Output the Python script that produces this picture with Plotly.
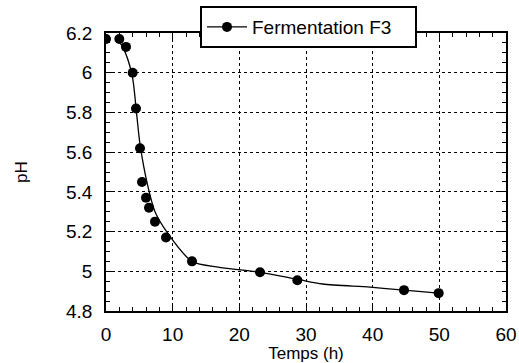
import plotly.graph_objects as go

# Measured data points (Temps h, pH)
temps_pts = [0, 2, 3, 4, 4.5, 5.1, 5.4, 6.0, 6.45, 7.35, 9.0, 12.9, 23.1, 28.7, 44.7, 49.9]
ph_pts = [6.17, 6.17, 6.13, 6.00, 5.82, 5.62, 5.45, 5.37, 5.32, 5.25, 5.17, 5.05, 4.995, 4.955, 4.905, 4.89]

# Fitted curve
temps_fit = [1.4, 2.5, 3.9, 4.6, 5.1, 6.2, 7.35, 9.3, 12.9, 17.0, 23.1, 28.7, 32.5, 39.6, 44.7, 49.9]
ph_fit = [6.18, 6.13, 5.99, 5.79, 5.64, 5.44, 5.30, 5.19, 5.05, 5.02, 4.995, 4.96, 4.936, 4.92, 4.905, 4.89]

series_name = "Fermentation F3"
x_title = "Temps (h)"
y_title = "pH"

FONT = "Liberation Sans, Arial, sans-serif"

fig = go.Figure()
fig.add_trace(go.Scatter(x=temps_fit, y=ph_fit, mode="lines", line=dict(color="black", width=1.3, shape="spline", smoothing=0.8),
                         showlegend=False, hoverinfo="skip"))
fig.add_trace(go.Scatter(x=temps_pts, y=ph_pts, mode="markers", marker=dict(color="black", size=10),
                         showlegend=False))
fig.add_trace(go.Scatter(x=[None], y=[None], mode="lines+markers", name=series_name,
                         line=dict(color="black", width=1.3), marker=dict(color="black", size=10)))

axis_common = dict(
    showgrid=True, gridcolor="black", griddash="dot", gridwidth=1,
    showline=True, linecolor="black", linewidth=1.5, mirror="ticks",
    ticks="inside", ticklen=8, tickcolor="black", tickwidth=1,
    zeroline=False, tickfont=dict(family=FONT, size=19, color="black"),
    automargin=False,
)

fig.update_xaxes(range=[0, 60], dtick=10, tick0=0,
                 minor=dict(ticks="inside", ticklen=4, dtick=2, tickcolor="black", showgrid=False),
                 title=dict(text=x_title, font=dict(family=FONT, size=17, color="black"), standoff=0),
                 ticklabelstandoff=5, **axis_common)
fig.update_yaxes(range=[4.8, 6.2], dtick=0.2, tick0=4.8,
                 minor=dict(ticks="inside", ticklen=4, dtick=0.05, tickcolor="black", showgrid=False),
                 title=dict(text=y_title, font=dict(family=FONT, size=17, color="black"), standoff=34),
                 ticklabelstandoff=8, **axis_common)

fig.update_layout(
    width=519, height=363,
    margin=dict(l=106, r=13, t=33, b=52, autoexpand=False),
    plot_bgcolor="white", paper_bgcolor="white",
    font=dict(family=FONT, size=18, color="black"),
    legend=dict(x=0.235, y=1.097, xanchor="left", yanchor="top",
                orientation="h", entrywidth=158,
                bgcolor="white", bordercolor="black", borderwidth=2,
                font=dict(family=FONT, size=19, color="black"),
                itemwidth=40),
)

fig.write_html("out.html", config={"displayModeBar": False},
               post_script="document.body.style.margin='0';document.body.style.overflow='hidden';")
